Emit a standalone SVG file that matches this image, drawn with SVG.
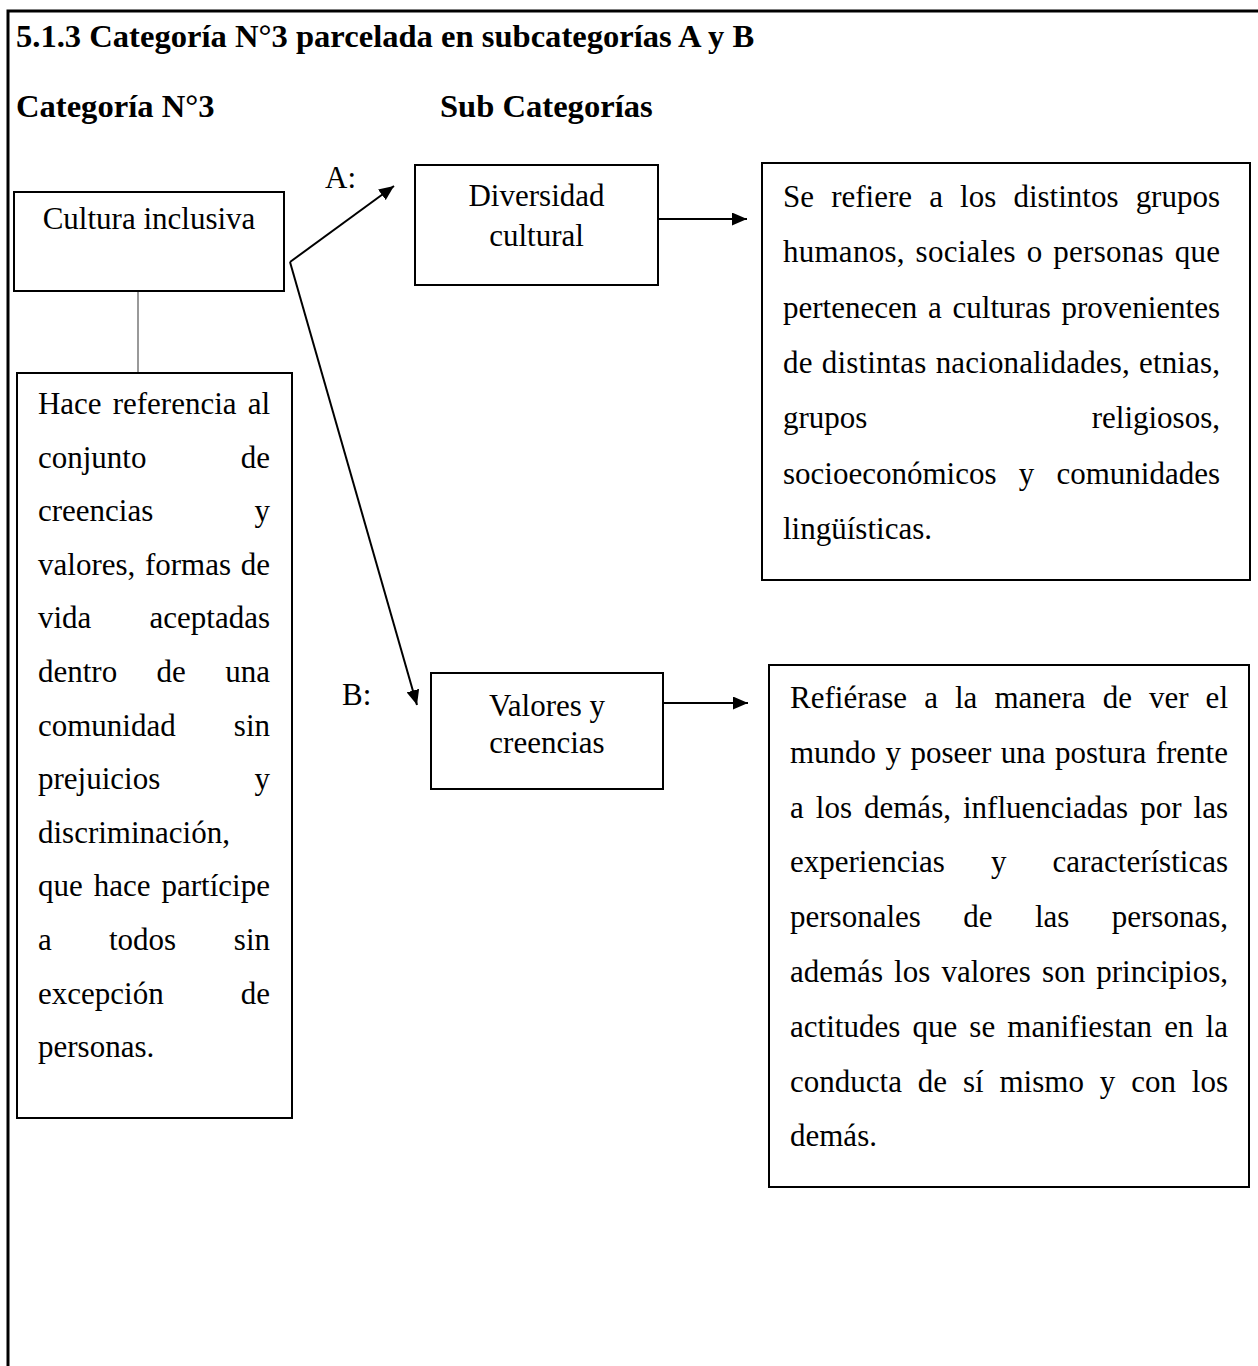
<svg xmlns="http://www.w3.org/2000/svg" width="1258" height="1366" viewBox="0 0 1258 1366">
<style>
text{font-family:"Liberation Serif","Times New Roman",serif;font-size:31px;fill:#000}
.h{font-weight:bold;font-size:32.6px}
.box{fill:#fff;stroke:#000;stroke-width:2}
.c{text-anchor:middle}
.e{text-anchor:end}
.con{stroke:#000;stroke-width:2;fill:none}
</style>
<defs>
<marker id="ah" markerUnits="userSpaceOnUse" markerWidth="15" markerHeight="13" viewBox="0 0 15 13" refX="15" refY="6.5" orient="auto">
<path d="M0,0 L15,6.5 L0,13 z" fill="#000"/>
</marker>
</defs>
<rect width="1258" height="1366" fill="#fff"/>
<path d="M8,1366 V11 H1258" fill="none" stroke="#000" stroke-width="3"/>
<g id="headings">
<text class="h" x="16" y="47">5.1.3 Categoría N°3 parcelada en subcategorías A y B</text>
<text class="h" x="16" y="117">Categoría N°3</text>
<text class="h" x="440" y="117">Sub Categorías</text>
<text x="325" y="188">A:</text>
<text x="342" y="705">B:</text>
</g>
<g id="connectors">
<line x1="138" y1="291" x2="138" y2="373" stroke="#777" stroke-width="1.5"/>
<line class="con" x1="290" y1="262" x2="394" y2="186" marker-end="url(#ah)"/>
<line class="con" x1="290" y1="262" x2="417" y2="705" marker-end="url(#ah)"/>
<line class="con" x1="658" y1="219" x2="747" y2="219" marker-end="url(#ah)"/>
<line class="con" x1="663" y1="703" x2="748" y2="703" marker-end="url(#ah)"/>
</g>
<g id="cultura">
<rect class="box" x="14" y="192" width="270" height="99"/>
<text class="c" x="149" y="229">Cultura inclusiva</text>
</g>
<g id="cultura-def">
<rect class="box" x="17" y="373" width="275" height="745"/>
<text x="38" y="414" word-spacing="3.4" textLength="232" lengthAdjust="spacing">Hace referencia al</text>
<text x="38" y="467.6">conjunto</text><text class="e" x="270" y="467.6">de</text>
<text x="38" y="521.2">creencias</text><text class="e" x="270" y="521.2">y</text>
<text x="38" y="574.8" word-spacing="1.9" textLength="232" lengthAdjust="spacing">valores, formas de</text>
<text x="38" y="628.4">vida</text><text class="e" x="270" y="628.4">aceptadas</text>
<text x="38" y="682">dentro</text><text x="156.5" y="682">de</text><text class="e" x="270" y="682">una</text>
<text x="38" y="735.6">comunidad</text><text class="e" x="270" y="735.6">sin</text>
<text x="38" y="789.2">prejuicios</text><text class="e" x="270" y="789.2">y</text>
<text x="38" y="842.8">discriminación,</text>
<text x="38" y="896.4" word-spacing="3.2" textLength="232" lengthAdjust="spacing">que hace partícipe</text>
<text x="38" y="950">a</text><text x="109" y="950">todos</text><text class="e" x="270" y="950">sin</text>
<text x="38" y="1003.6">excepción</text><text class="e" x="270" y="1003.6">de</text>
<text x="38" y="1057.2">personas.</text>
</g>
<g id="diversidad">
<rect class="box" x="415" y="165" width="243" height="120"/>
<text class="c" x="536.5" y="206">Diversidad</text>
<text class="c" x="536.5" y="246">cultural</text>
</g>
<g id="diversidad-def">
<rect class="box" x="762" y="163" width="488" height="417"/>
<text x="783" y="207" word-spacing="9.4" textLength="437" lengthAdjust="spacing">Se refiere a los distintos grupos</text>
<text x="783" y="262.3" word-spacing="2.9" textLength="437" lengthAdjust="spacing">humanos, sociales o personas que</text>
<text x="783" y="317.6" word-spacing="3" textLength="437" lengthAdjust="spacing">pertenecen a culturas provenientes</text>
<text x="783" y="372.9" word-spacing="1.3" textLength="437" lengthAdjust="spacing">de distintas nacionalidades, etnias,</text>
<text x="783" y="428.2">grupos</text><text class="e" x="1220" y="428.2">religiosos,</text>
<text x="783" y="483.5">socioeconómicos</text><text x="1018.7" y="483.5">y</text><text class="e" x="1220" y="483.5">comunidades</text>
<text x="783" y="538.8">lingüísticas.</text>
</g>
<g id="valores">
<rect class="box" x="431" y="673" width="232" height="116"/>
<text class="c" x="547" y="716">Valores y</text>
<text class="c" x="547" y="753">creencias</text>
</g>
<g id="valores-def">
<rect class="box" x="769" y="665" width="480" height="522"/>
<text x="790" y="708" word-spacing="9.3" textLength="438" lengthAdjust="spacing">Refiérase a la manera de ver el</text>
<text x="790" y="762.8" word-spacing="1.7" textLength="438" lengthAdjust="spacing">mundo y poseer una postura frente</text>
<text x="790" y="817.6" word-spacing="4.3" textLength="438" lengthAdjust="spacing">a los demás, influenciadas por las</text>
<text x="790" y="872.4">experiencias</text><text x="990.9" y="872.4">y</text><text class="e" x="1228" y="872.4">características</text>
<text x="790" y="927.2">personales</text><text x="963.3" y="927.2">de</text><text x="1035" y="927.2">las</text><text class="e" x="1228" y="927.2">personas,</text>
<text x="790" y="982" word-spacing="3.4" textLength="438" lengthAdjust="spacing">además los valores son principios,</text>
<text x="790" y="1036.8" word-spacing="4.4" textLength="438" lengthAdjust="spacing">actitudes que se manifiestan en la</text>
<text x="790" y="1091.6" word-spacing="8.1" textLength="438" lengthAdjust="spacing">conducta de sí mismo y con los</text>
<text x="790" y="1146.4">demás.</text>
</g>
</svg>
